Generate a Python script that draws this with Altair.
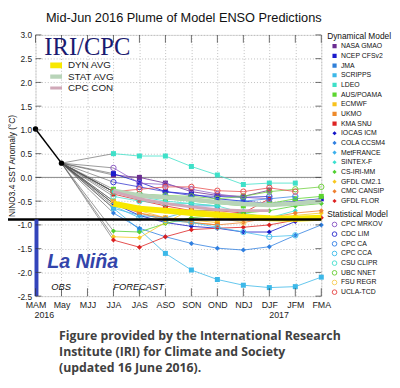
import altair as alt
import pandas as pd

FONT = "Liberation Sans"

seasons = ["MAM", "May", "MJJ", "JJA", "JAS", "ASO", "SON", "OND", "NDJ", "DJF", "JFM", "FMA"]
forecast_seasons = seasons[3:]

obs_seasons = ["MAM", "May"]
obs_values = [1.02, 0.30]

dyn_models = ["NASA GMAO", "NCEP CFSv2", "JMA", "SCRIPPS", "LDEO", "AUS/POAMA", "ECMWF", "UKMO",
              "KMA SNU", "IOCAS ICM", "COLA CCSM4", "MetFRANCE", "SINTEX-F", "CS-IRI-MM",
              "GFDL CM2.1", "CMC CANSIP", "GFDL FLOR"]
dyn_colors = ["#6b2c91", "#1a1acc", "#2f7fd8", "#3cb8e8", "#3ee0c8", "#5cd62f", "#f8c21c", "#ee8a2a",
              "#dd2424", "#1414c8", "#2f7fe0", "#3cb0ec", "#3ce0d0", "#50d030", "#f8c820", "#ee8030",
              "#dd2020"]
dyn_shapes = ["square"] * 9 + ["diamond"] * 8
dyn_values = [
    [0.05, 0.00, -0.12, -0.30, -0.38, -0.40, -0.27, None, None],
    [0.08, -0.10, -0.30, -0.35, -0.45, -0.50, -0.55, -0.50, -0.45],
    [-0.30, -0.45, -0.55, -0.60, -0.60, None, None, None, None],
    [-0.65, -1.10, -1.60, -1.95, -2.15, -2.27, -2.32, -2.30, -2.10],
    [0.50, 0.45, 0.45, 0.23, 0.05, -0.15, -0.12, -0.12, None],
    [-0.25, -0.40, -0.45, -0.50, -0.55, -0.60, -0.55, -0.45, -0.40],
    [-0.50, -0.70, -0.85, -0.90, -0.95, None, None, None, None],
    [-0.55, -0.75, -0.90, -0.95, -1.00, None, None, None, None],
    [-0.35, -0.48, -0.60, -0.70, -0.70, -0.75, -0.45, None, None],
    [-0.55, -0.80, -0.95, -1.03, -1.07, -1.15, -1.15, -0.93, None],
    [-0.75, -1.07, -1.25, -1.39, -1.49, -1.53, -1.46, -1.22, -1.00],
    [-0.65, -0.80, -0.85, -0.70, -0.68, -0.70, None, None, None],
    [-0.30, -0.40, -0.50, -0.55, -0.60, -0.75, -0.85, -0.70, None],
    [-1.13, -1.15, -0.97, -0.85, -0.80, -0.75, -0.70, -0.60, -0.55],
    [-1.25, -1.27, -0.95, -0.68, -0.72, -0.80, -0.85, -0.80, -0.75],
    [-0.50, -0.75, -0.85, -0.95, -1.00, -0.95, -0.85, -0.75, -0.70],
    [-1.32, -1.47, -1.25, -1.10, -1.07, -1.05, -1.00, -0.90, -0.85],
]

stat_models = ["CPC MRKOV", "CDC LIM", "CPC CA", "CPC CCA", "CSU CLIPR", "UBC NNET", "FSU REGR", "UCLA-TCD"]
stat_colors = ["#9060c8", "#3838d0", "#4088e8", "#48c0ec", "#50e0d0", "#70d040", "#f8d060", "#e85050"]
stat_values = [
    [0.20, -0.12, -0.15, -0.25, -0.35, -0.42, -0.45, None, None],
    [-0.10, -0.20, -0.30, -0.38, -0.40, -0.42, -0.40, None, None],
    [-0.30, -0.35, -0.40, -0.45, -0.50, -0.50, -0.45, -0.40, None],
    [-0.60, -0.85, -0.90, -0.95, -1.05, -1.15, -1.25, -1.22, None],
    [-0.40, -0.50, -0.55, -0.55, -0.60, None, None, None, None],
    [-0.30, -0.35, -0.38, -0.40, -0.45, -0.40, -0.30, -0.25, -0.20],
    [-0.55, -0.65, -0.70, -0.75, -0.85, -0.95, None, None, None],
    [-0.30, -0.25, -0.20, -0.20, -0.28, -0.30, -0.22, -0.30, None],
]

avg_names = ["DYN AVG", "STAT AVG", "CPC CON"]
avg_colors = ["#f8e800", "#b8d4b8", "#d0a8b8"]
avg_widths = [6, 3, 3]
avg_values = [
    [-0.55, -0.66, -0.70, -0.75, -0.79, -0.83, -0.86, -0.87, -0.85],
    [-0.28, -0.38, -0.42, -0.46, -0.52, -0.56, -0.58, -0.55, -0.50],
    [-0.30, -0.45, -0.55, -0.62, -0.68, -0.70, -0.70, None, None],
]

y_ticks = [-2.5, -2.0, -1.5, -1.0, -0.5, 0.0, 0.5, 1.0, 1.5, 2.0, 2.5, 3.0]
la_nina_threshold = -0.885

caption_text = ("Figure provided by the International Research\n"
                "Institute (IRI) for Climate and Society\n"
                "(updated 16 June 2016).")


def long_df(names, values):
    rows = []
    for name, vals in zip(names, values):
        for i, (s, v) in enumerate(zip(forecast_seasons, vals)):
            if v is not None:
                rows.append({"model": name, "season": s, "value": v, "idx": i})
    return pd.DataFrame(rows)


dyn_df = long_df(dyn_models, dyn_values)
stat_df = long_df(stat_models, stat_values)
avg_df = long_df(avg_names, avg_values)

conn_rows = []
for name, vals in list(zip(dyn_models, dyn_values)) + list(zip(stat_models, stat_values)):
    conn_rows.append({"model": name, "season": "May", "value": obs_values[1], "idx": 0})
    conn_rows.append({"model": name, "season": "JJA", "value": vals[0], "idx": 1})
conn_df = pd.DataFrame(conn_rows)

obs_df = pd.DataFrame({"season": obs_seasons, "value": obs_values, "idx": [0, 1]})

W, H = 291, 266


def X():
    return alt.X("season:O", sort=seasons,
                 scale=alt.Scale(type="point", domain=seasons, padding=0),
                 axis=alt.Axis(labelAngle=0, labelPadding=5, labelFontSize=9, labelFont=FONT,
                               labelColor="#222", ticks=False, domain=False, grid=True,
                               gridColor="#b0b0b0", gridDash=[1, 2], gridWidth=0.8),
                 title=None)


def Y(field="value"):
    return alt.Y(f"{field}:Q",
                 scale=alt.Scale(domain=[-2.5, 3.0], nice=False, zero=False),
                 axis=alt.Axis(values=y_ticks,
                               labelExpr="replace(format(datum.value, '.1f'), '\u2212', '-')",
                               labelPadding=4, labelFontSize=8.5, labelFont=FONT, labelColor="#222",
                               ticks=False, domain=False, grid=True, gridColor="#b0b0b0",
                               gridDash=[1, 2], gridWidth=0.8, titleFontSize=8.5,
                               titleFontWeight="normal", titleFont=FONT, titleColor="#111",
                               titlePadding=1),
                 title="NINO3.4 SST Anomaly (\u00b0C)")


base_legend = dict(orient="none", titleFontSize=8.5, titleFontWeight="normal", titleFont=FONT,
                   titleColor="#111", labelFontSize=7, labelFont=FONT, labelColor="#111",
                   rowPadding=1.85, clipHeight=8, labelOffset=3, symbolOffset=4, padding=0,
                   titlePadding=2, symbolLimit=40)

dyn_legend = alt.Legend(title="Dynamical Model", legendX=297, legendY=-3, symbolSize=18,
                        symbolStrokeWidth=0, **base_legend)
stat_legend = alt.Legend(title="Statistical Model", legendX=297, legendY=178.5, symbolSize=22,
                         symbolStrokeWidth=1, **base_legend)

zero_line = alt.Chart(pd.DataFrame({"value": [0.0]})).mark_rule(color="#888", strokeWidth=1).encode(y=Y())

conn = alt.Chart(conn_df).mark_line(color="#555", strokeWidth=0.7, opacity=0.85).encode(
    x=X(), y=Y(), detail="model:N", order="idx:Q")

dyn_color = alt.Color("model:N", scale=alt.Scale(domain=dyn_models, range=dyn_colors), legend=dyn_legend)
dyn_shape = alt.Shape("model:N", scale=alt.Scale(domain=dyn_models, range=dyn_shapes), legend=dyn_legend)
dyn_lines = alt.Chart(dyn_df).mark_line(strokeWidth=0.8).encode(
    x=X(), y=Y(), color=dyn_color, order="idx:Q")
dyn_points = alt.Chart(dyn_df).mark_point(filled=True, size=26, opacity=1).encode(
    x=X(), y=Y(), color=dyn_color, shape=dyn_shape)
dyn_group = alt.layer(dyn_lines, dyn_points)

stat_color = alt.Color("model:N", scale=alt.Scale(domain=stat_models, range=stat_colors), legend=stat_legend)
stat_shape = alt.Shape("model:N", scale=alt.Scale(domain=stat_models, range=["circle"] * 8), legend=stat_legend)
stat_lines = alt.Chart(stat_df).mark_line(strokeWidth=0.8).encode(
    x=X(), y=Y(), color=stat_color, order="idx:Q")
stat_points = alt.Chart(stat_df).mark_point(filled=False, size=30, strokeWidth=1, opacity=1).encode(
    x=X(), y=Y(), color=stat_color, shape=stat_shape)
stat_group = alt.layer(stat_lines, stat_points)

avg_legend = alt.Legend(title=None, orient="none", legendX=12, legendY=26, symbolType="stroke",
                        symbolSize=144, symbolStrokeWidth=4, labelFontSize=10, labelFont=FONT,
                        labelColor="#222", labelOffset=3, rowPadding=1.5, clipHeight=10, padding=0)
avg_lines = alt.Chart(avg_df).mark_line().encode(
    x=X(), y=Y(),
    color=alt.Color("model:N", scale=alt.Scale(domain=avg_names, range=avg_colors), legend=avg_legend),
    strokeWidth=alt.StrokeWidth("model:N", scale=alt.Scale(domain=avg_names, range=avg_widths), legend=None),
    order="idx:Q")

obs_line = alt.Chart(obs_df).mark_line(color="black", strokeWidth=1.5).encode(x=X(), y=Y(), order="idx:Q")
obs_pts = alt.Chart(obs_df).mark_point(filled=True, color="black", size=30, opacity=1).encode(x=X(), y=Y())

thr = alt.Chart(pd.DataFrame({"value": [la_nina_threshold]})).mark_rule(color="black", strokeWidth=2.5).encode(
    y=Y(), x=alt.value(-33), x2=alt.value(W))
bar = alt.Chart(pd.DataFrame({"value": [la_nina_threshold], "v2": [-2.5]})).mark_rule(
    color="#3344bb", strokeWidth=4).encode(y=Y(), y2=alt.Y2("v2:Q"), x=alt.value(1))

tick_df = pd.DataFrame({"season": seasons})
ytick_df = pd.DataFrame({"value": y_ticks})
ticks_b = alt.Chart(tick_df).mark_tick(orient="vertical", size=8, thickness=1, color="#333").encode(
    x=X(), y=alt.value(H - 4))
ticks_t = alt.Chart(tick_df).mark_tick(orient="vertical", size=8, thickness=1, color="#333").encode(
    x=X(), y=alt.value(4))
ticks_l = alt.Chart(ytick_df).mark_tick(orient="horizontal", size=6, thickness=1, color="#333").encode(
    y=Y(), x=alt.value(3))
ticks_r = alt.Chart(ytick_df).mark_tick(orient="horizontal", size=6, thickness=1, color="#333").encode(
    y=Y(), x=alt.value(W - 3))


def text_layer(texts, xs, ys, **kw):
    df = pd.DataFrame({"t": texts, "px": xs, "py": ys})
    return alt.Chart(df).mark_text(**kw).encode(
        x=alt.X("px:Q", scale=None), y=alt.Y("py:Q", scale=None), text="t:N")


title = text_layer(["Mid-Jun 2016 Plume of Model ENSO Predictions"], [151], [-17],
                   font=FONT, fontSize=13, color="#111", align="center", baseline="middle")
iri = text_layer(["IRI/CPC"], [9], [12], font="Liberation Serif", fontSize=25, color="#1a1a70",
                 align="left", baseline="middle")
obs_txt = text_layer(["OBS", "FORECAST"], [26, 105], [257, 257], font=FONT, fontSize=9.5,
                     fontStyle="italic", color="#111", align="center", baseline="middle")
nina = text_layer(["La Niña"], [12], [231], font=FONT, fontSize=20, fontStyle="italic",
                  fontWeight="bold", color="#3344aa", align="left", baseline="middle")
years = text_layer(["2016", "2017"], [9, 248], [285, 285], font=FONT, fontSize=9, color="#222",
                   align="center", baseline="middle")
caption = text_layer([caption_text], [24], [307], font="Open Sans", fontSize=12.5,
                     fontWeight="bold", color="#404040", align="left", baseline="middle",
                     lineBreak="\n", lineHeight=16)

chart = alt.layer(
    zero_line, conn, dyn_group, stat_group, avg_lines, obs_line, obs_pts, thr, bar,
    ticks_b, ticks_t, ticks_l, ticks_r, title, iri, obs_txt, nina, years, caption
).resolve_scale(color="independent", shape="independent", strokeWidth="independent").properties(
    width=W, height=H,
    autosize=alt.AutoSizeParams(type="none"),
    padding={"left": 28, "top": 24, "right": 72, "bottom": 82},
).configure_view(stroke="#333", strokeWidth=1).configure(background="white")

chart.save("out.html", embed_options={"renderer": "svg", "actions": False})
